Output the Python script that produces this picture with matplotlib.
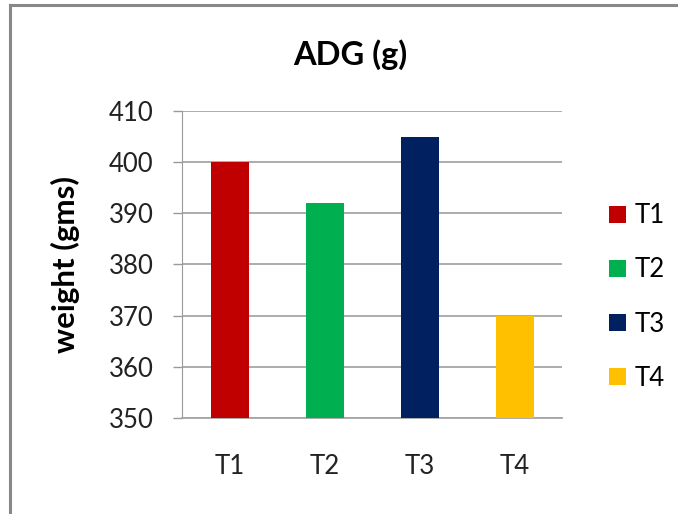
import matplotlib
matplotlib.use("Agg")
import matplotlib.pyplot as plt
from matplotlib.lines import Line2D
from matplotlib.patches import Patch

treatments = ["T1", "T2", "T3", "T4"]
adg = [400, 392, 405, 370]
colors = ["#C00000", "#00B050", "#002060", "#FFC000"]
yticks = [350, 360, 370, 380, 390, 400, 410]

plt.rcParams["font.family"] = ["Lato", "DejaVu Sans"]

fig = plt.figure(figsize=(6.78, 5.14), dpi=100)
ax = fig.add_axes([182 / 678, 1 - 418 / 514, 380 / 678, 307 / 514])

x = range(len(treatments))
ax.bar(x, [v - 350 for v in adg], bottom=350, width=0.4, color=colors, zorder=3)

ax.set_xlim(-0.5, 3.5)
ax.set_ylim(350, 410)
ax.set_yticks(yticks)
ax.set_xticks(list(x))
ax.set_xticklabels(treatments)
ax.tick_params(axis="y", length=6.5, width=1, color="#999999", pad=14, labelsize=18.5, labelcolor="#222222")
ax.tick_params(axis="x", length=0, pad=26, labelsize=18.5, labelcolor="#222222")
ax.grid(axis="y", color="#a6a6a6", linewidth=1.3, zorder=0)

for side in ["top", "right"]:
    ax.spines[side].set_visible(False)
ax.spines["left"].set_color("#999999")
ax.spines["bottom"].set_color("#a6a6a6")
ax.spines["bottom"].set_linewidth(1.3)

ax.set_ylabel("weight (gms)", fontsize=22.5, fontweight="bold")
ax.yaxis.set_label_coords(-0.268, 0.5)
fig.text(350 / 678, 1 - 55 / 514, "ADG (g)", ha="center", va="center", fontsize=23.5, fontweight="bold")

handles = [Patch(facecolor=c, edgecolor="none") for c in colors]
fig.legend(handles, treatments, loc="center left", bbox_to_anchor=(586 / 678, 1 - 297 / 514),
           frameon=False, fontsize=18.5, handlelength=0.66, handleheight=0.66, handletextpad=0.35,
           labelspacing=1.13)

# outer border along the top and left edge
fig.add_artist(Line2D([10 / 678, 1], [1 - 5 / 514, 1 - 5 / 514], transform=fig.transFigure, color="#888888", linewidth=2.2))
fig.add_artist(Line2D([10 / 678, 10 / 678], [0, 1 - 5 / 514], transform=fig.transFigure, color="#888888", linewidth=2.2))

fig.savefig("out.png", dpi=100)
